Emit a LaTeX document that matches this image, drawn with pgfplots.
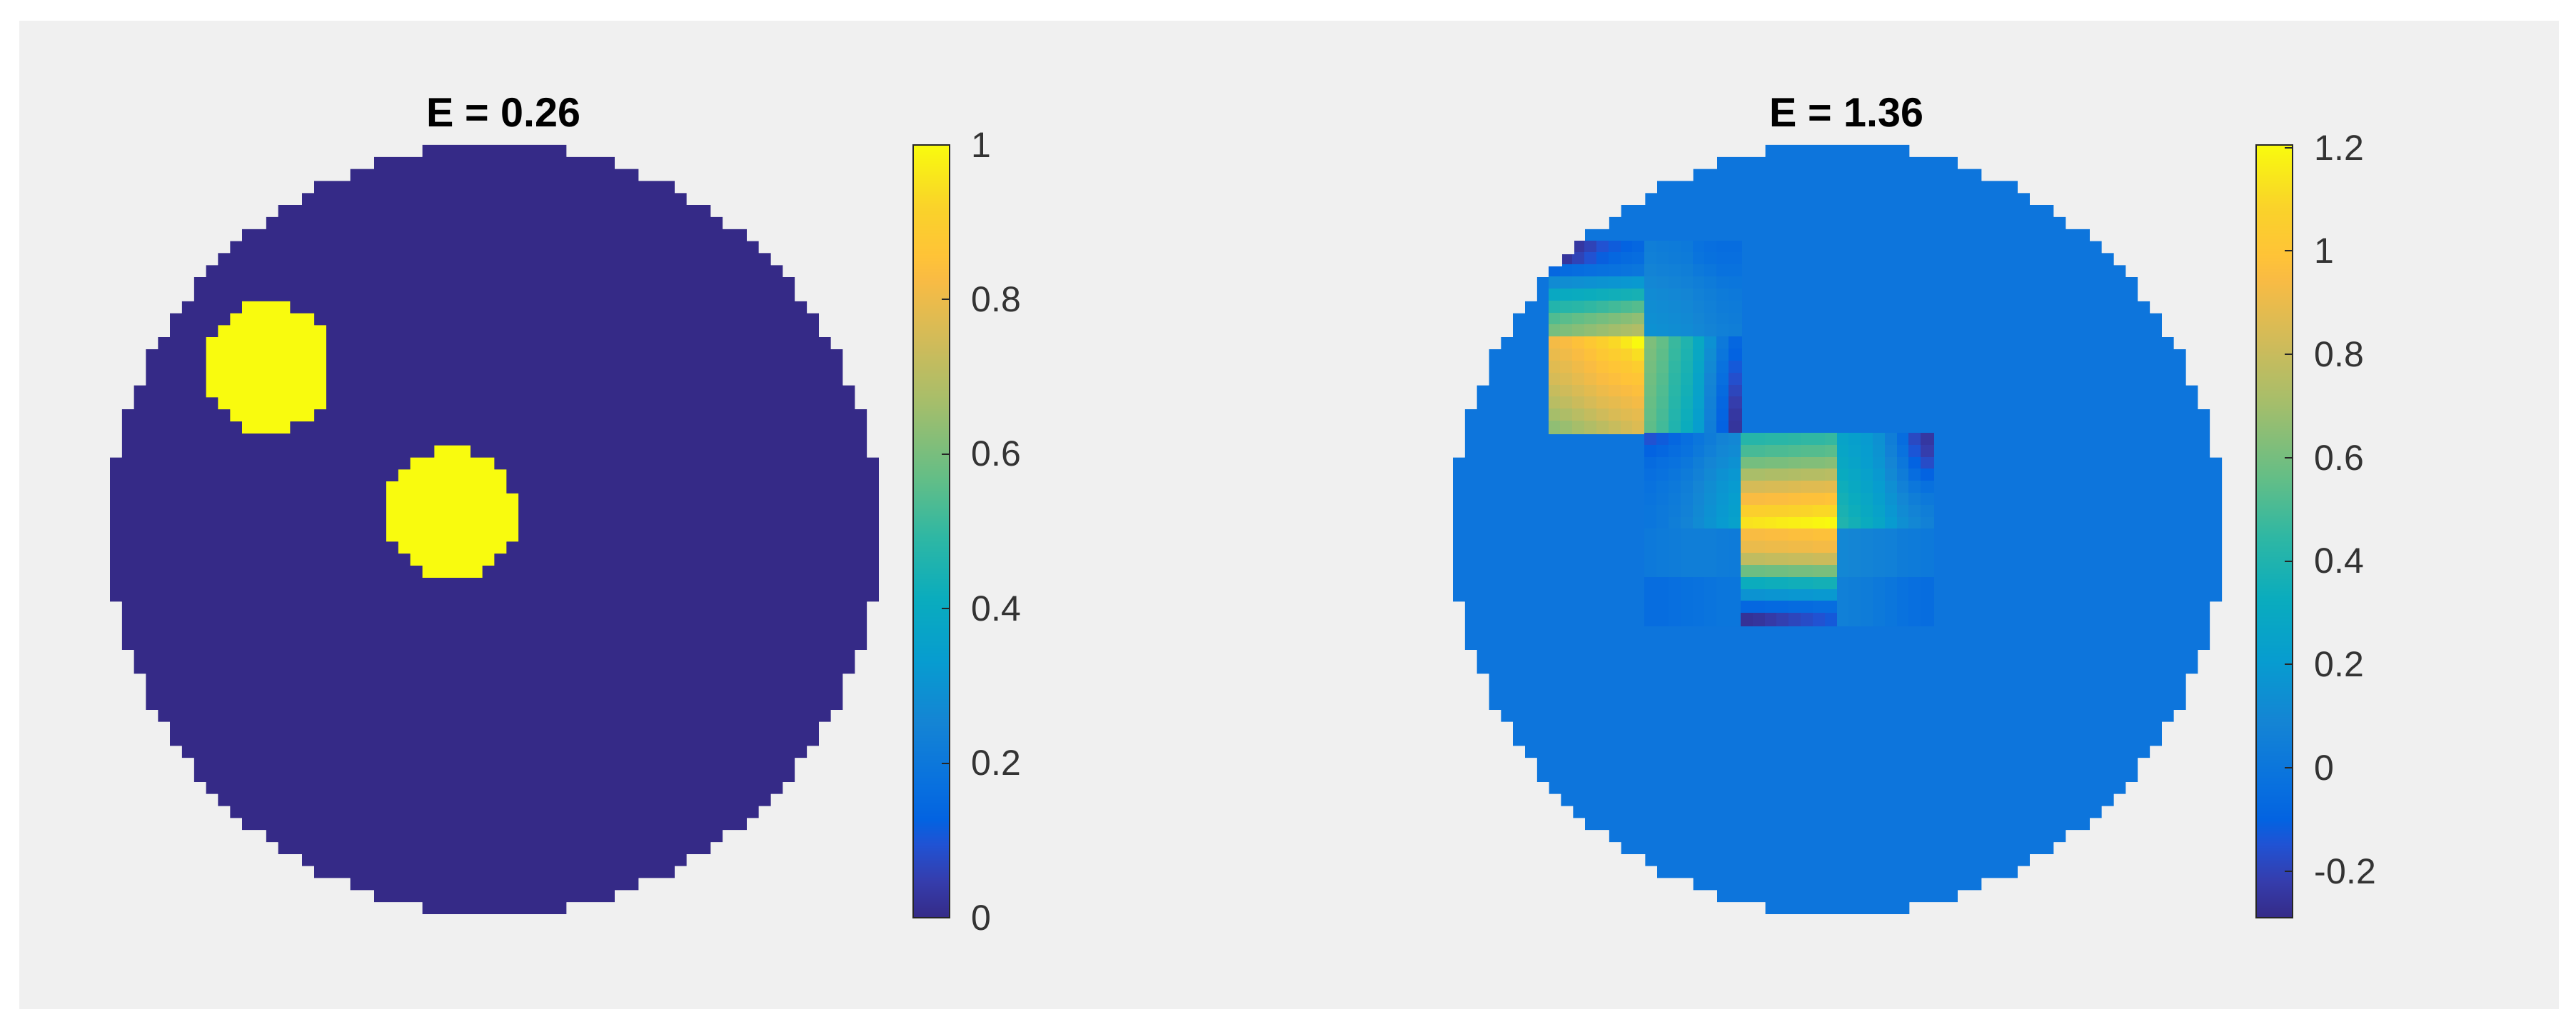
\documentclass[border=0pt]{standalone}
\usepackage{fontspec}
\setmainfont{Liberation Sans}
\usepackage{pgfplots}
\usepackage{pgfplotstable}
\pgfplotsset{compat=1.18}

\definecolor{figgray}{RGB}{240,240,240}
\definecolor{pa0}{rgb}{0.2081,0.1663,0.5292}
\definecolor{pa1}{rgb}{0.9763,0.9831,0.0538}
\definecolor{pbg}{rgb}{0.05,0.46,0.864}

\pgfplotsset{
  colormap={parula}{rgb(0pt)=(0.2081,0.1663,0.5292) rgb(3pt)=(0.2081,0.2386,0.6771)
    rgb(6pt)=(0.1253,0.3242,0.8303) rgb(8pt)=(0.0117,0.3875,0.8820)
    rgb(11pt)=(0.0329,0.4430,0.8720) rgb(16pt)=(0.0793,0.5200,0.8312)
    rgb(21pt)=(0.0265,0.6137,0.8135) rgb(26pt)=(0.0384,0.6743,0.7436)
    rgb(31pt)=(0.1801,0.7177,0.6424) rgb(36pt)=(0.3953,0.7459,0.5244)
    rgb(42pt)=(0.6473,0.7456,0.4188) rgb(47pt)=(0.8185,0.7327,0.3498)
    rgb(52pt)=(0.9739,0.7314,0.2666) rgb(54pt)=(0.9990,0.7653,0.2164)
    rgb(58pt)=(0.9789,0.8271,0.1633) rgb(63pt)=(0.9763,0.9831,0.0538)},
  discax/.style={
    scale only axis, width=215.4pt, height=215.4pt, y dir=reverse,
    xmin=0, xmax=64, ymin=0, ymax=64,
    hide axis, anchor=north west,
    title style={at={(0.5,1)}, anchor=base, yshift=-1pt, xshift=2.6pt,
      font=\bfseries\fontsize{11.5}{13}\selectfont},
    colorbar, colorbar/width=10.1pt,
    colorbar style={
      at={(parent axis.north east)}, anchor=north west, xshift=1.1pt,
      height=216.4pt,
      ytick pos=right, tick align=inside, major tick length=2.2pt,
      axis line style={black!85, line width=0.4pt},
      ytick style={black!85, line width=0.4pt},
      yticklabel style={font=\fontsize{10}{12}\selectfont, text=black!80, xshift=2.7pt},
      /pgf/number format/assume math mode=true,
    },
  },
}

% staircase outline of the disc (cell edges, row 0 at top)
\pgfplotstableread{
x y
26 0
38 0
38 1
42 1
42 2
44 2
44 3
47 3
47 4
48 4
48 5
50 5
50 6
51 6
51 7
53 7
53 8
54 8
54 9
55 9
55 10
56 10
56 11
57 11
57 13
58 13
58 14
59 14
59 16
60 16
60 17
61 17
61 20
62 20
62 22
63 22
63 26
64 26
64 38
63 38
63 42
62 42
62 44
61 44
61 47
60 47
60 48
59 48
59 50
58 50
58 51
57 51
57 53
56 53
56 54
55 54
55 55
54 55
54 56
53 56
53 57
51 57
51 58
50 58
50 59
48 59
48 60
47 60
47 61
44 61
44 62
42 62
42 63
38 63
38 64
26 64
26 63
22 63
22 62
20 62
20 61
17 61
17 60
16 60
16 59
14 59
14 58
13 58
13 57
11 57
11 56
10 56
10 55
9 55
9 54
8 54
8 53
7 53
7 51
6 51
6 50
5 50
5 48
4 48
4 47
3 47
3 44
2 44
2 42
1 42
1 38
0 38
0 26
1 26
1 22
2 22
2 20
3 20
3 17
4 17
4 16
5 16
5 14
6 14
6 13
7 13
7 11
8 11
8 10
9 10
9 9
10 9
10 8
11 8
11 7
13 7
13 6
14 6
14 5
16 5
16 4
17 4
17 3
20 3
20 2
22 2
22 1
26 1
}\disc

% reconstruction, upper blocks: columns 8-23, rows 8-23
\pgfplotstableread[row sep=\\]{
x y c \\
8.5 8.5 -0.25 \\ 9.5 8.5 -0.25 \\ 10.5 8.5 -0.24 \\ 11.5 8.5 -0.2 \\ 12.5 8.5 -0.15 \\ 13.5 8.5 -0.12 \\ 14.5 8.5 -0.1 \\ 15.5 8.5 -0.08 \\ 16.5 8.5 0.05 \\ 17.5 8.5 0.04 \\ 18.5 8.5 0.03 \\ 19.5 8.5 0.02 \\ 20.5 8.5 -0.02 \\ 21.5 8.5 -0.04 \\ 22.5 8.5 -0.05 \\ 23.5 8.5 -0.05 \\
8.5 9.5 -0.25 \\ 9.5 9.5 -0.25 \\ 10.5 9.5 -0.2 \\ 11.5 9.5 -0.15 \\ 12.5 9.5 -0.11 \\ 13.5 9.5 -0.08 \\ 14.5 9.5 -0.06 \\ 15.5 9.5 -0.05 \\ 16.5 9.5 0.06 \\ 17.5 9.5 0.05 \\ 18.5 9.5 0.04 \\ 19.5 9.5 0.03 \\ 20.5 9.5 -0.01 \\ 21.5 9.5 -0.03 \\ 22.5 9.5 -0.04 \\ 23.5 9.5 -0.04 \\
8.5 10.5 -0.08 \\ 9.5 10.5 -0.06 \\ 10.5 10.5 -0.05 \\ 11.5 10.5 -0.04 \\ 12.5 10.5 -0.03 \\ 13.5 10.5 -0.02 \\ 14.5 10.5 -0.01 \\ 15.5 10.5 0 \\ 16.5 10.5 0.08 \\ 17.5 10.5 0.07 \\ 18.5 10.5 0.06 \\ 19.5 10.5 0.05 \\ 20.5 10.5 0.02 \\ 21.5 10.5 0 \\ 22.5 10.5 -0.02 \\ 23.5 10.5 -0.02 \\
8.5 11.5 0.12 \\ 9.5 11.5 0.13 \\ 10.5 11.5 0.14 \\ 11.5 11.5 0.15 \\ 12.5 11.5 0.16 \\ 13.5 11.5 0.17 \\ 14.5 11.5 0.18 \\ 15.5 11.5 0.19 \\ 16.5 11.5 0.1 \\ 17.5 11.5 0.09 \\ 18.5 11.5 0.08 \\ 19.5 11.5 0.07 \\ 20.5 11.5 0.05 \\ 21.5 11.5 0.03 \\ 22.5 11.5 0.01 \\ 23.5 11.5 0 \\
8.5 12.5 0.3 \\ 9.5 12.5 0.31 \\ 10.5 12.5 0.32 \\ 11.5 12.5 0.33 \\ 12.5 12.5 0.34 \\ 13.5 12.5 0.35 \\ 14.5 12.5 0.36 \\ 15.5 12.5 0.37 \\ 16.5 12.5 0.12 \\ 17.5 12.5 0.11 \\ 18.5 12.5 0.1 \\ 19.5 12.5 0.09 \\ 20.5 12.5 0.07 \\ 21.5 12.5 0.05 \\ 22.5 12.5 0.03 \\ 23.5 12.5 0.02 \\
8.5 13.5 0.41 \\ 9.5 13.5 0.42 \\ 10.5 13.5 0.43 \\ 11.5 13.5 0.45 \\ 12.5 13.5 0.47 \\ 13.5 13.5 0.49 \\ 14.5 13.5 0.51 \\ 15.5 13.5 0.53 \\ 16.5 13.5 0.13 \\ 17.5 13.5 0.12 \\ 18.5 13.5 0.11 \\ 19.5 13.5 0.1 \\ 20.5 13.5 0.08 \\ 21.5 13.5 0.06 \\ 22.5 13.5 0.04 \\ 23.5 13.5 0.03 \\
8.5 14.5 0.52 \\ 9.5 14.5 0.54 \\ 10.5 14.5 0.56 \\ 11.5 14.5 0.58 \\ 12.5 14.5 0.6 \\ 13.5 14.5 0.62 \\ 14.5 14.5 0.64 \\ 15.5 14.5 0.66 \\ 16.5 14.5 0.14 \\ 17.5 14.5 0.13 \\ 18.5 14.5 0.12 \\ 19.5 14.5 0.11 \\ 20.5 14.5 0.09 \\ 21.5 14.5 0.07 \\ 22.5 14.5 0.05 \\ 23.5 14.5 0.04 \\
8.5 15.5 0.6 \\ 9.5 15.5 0.62 \\ 10.5 15.5 0.64 \\ 11.5 15.5 0.66 \\ 12.5 15.5 0.68 \\ 13.5 15.5 0.7 \\ 14.5 15.5 0.72 \\ 15.5 15.5 0.74 \\ 16.5 15.5 0.15 \\ 17.5 15.5 0.14 \\ 18.5 15.5 0.13 \\ 19.5 15.5 0.12 \\ 20.5 15.5 0.1 \\ 21.5 15.5 0.08 \\ 22.5 15.5 0.06 \\ 23.5 15.5 0.05 \\
8.5 16.5 0.93 \\ 9.5 16.5 0.95 \\ 10.5 16.5 0.98 \\ 11.5 16.5 1.02 \\ 12.5 16.5 1.06 \\ 13.5 16.5 1.1 \\ 14.5 16.5 1.15 \\ 15.5 16.5 1.2 \\ 16.5 16.5 0.62 \\ 17.5 16.5 0.56 \\ 18.5 16.5 0.47 \\ 19.5 16.5 0.4 \\ 20.5 16.5 0.3 \\ 21.5 16.5 0.15 \\ 22.5 16.5 0.02 \\ 23.5 16.5 -0.08 \\
8.5 17.5 0.9 \\ 9.5 17.5 0.92 \\ 10.5 17.5 0.95 \\ 11.5 17.5 0.98 \\ 12.5 17.5 1.02 \\ 13.5 17.5 1.05 \\ 14.5 17.5 1.08 \\ 15.5 17.5 1.12 \\ 16.5 17.5 0.61 \\ 17.5 17.5 0.55 \\ 18.5 17.5 0.46 \\ 19.5 17.5 0.39 \\ 20.5 17.5 0.29 \\ 21.5 17.5 0.13 \\ 22.5 17.5 0 \\ 23.5 17.5 -0.1 \\
8.5 18.5 0.87 \\ 9.5 18.5 0.89 \\ 10.5 18.5 0.92 \\ 11.5 18.5 0.95 \\ 12.5 18.5 0.98 \\ 13.5 18.5 1 \\ 14.5 18.5 1.02 \\ 15.5 18.5 1.05 \\ 16.5 18.5 0.6 \\ 17.5 18.5 0.54 \\ 18.5 18.5 0.45 \\ 19.5 18.5 0.38 \\ 20.5 18.5 0.27 \\ 21.5 18.5 0.11 \\ 22.5 18.5 -0.02 \\ 23.5 18.5 -0.13 \\
8.5 19.5 0.84 \\ 9.5 19.5 0.86 \\ 10.5 19.5 0.89 \\ 11.5 19.5 0.92 \\ 12.5 19.5 0.95 \\ 13.5 19.5 0.97 \\ 14.5 19.5 0.99 \\ 15.5 19.5 1 \\ 16.5 19.5 0.59 \\ 17.5 19.5 0.53 \\ 18.5 19.5 0.44 \\ 19.5 19.5 0.37 \\ 20.5 19.5 0.26 \\ 21.5 19.5 0.09 \\ 22.5 19.5 -0.04 \\ 23.5 19.5 -0.16 \\
8.5 20.5 0.8 \\ 9.5 20.5 0.82 \\ 10.5 20.5 0.85 \\ 11.5 20.5 0.88 \\ 12.5 20.5 0.91 \\ 13.5 20.5 0.93 \\ 14.5 20.5 0.95 \\ 15.5 20.5 0.97 \\ 16.5 20.5 0.58 \\ 17.5 20.5 0.52 \\ 18.5 20.5 0.43 \\ 19.5 20.5 0.36 \\ 20.5 20.5 0.25 \\ 21.5 20.5 0.08 \\ 22.5 20.5 -0.06 \\ 23.5 20.5 -0.19 \\
8.5 21.5 0.76 \\ 9.5 21.5 0.78 \\ 10.5 21.5 0.81 \\ 11.5 21.5 0.84 \\ 12.5 21.5 0.87 \\ 13.5 21.5 0.89 \\ 14.5 21.5 0.91 \\ 15.5 21.5 0.93 \\ 16.5 21.5 0.57 \\ 17.5 21.5 0.51 \\ 18.5 21.5 0.42 \\ 19.5 21.5 0.35 \\ 20.5 21.5 0.24 \\ 21.5 21.5 0.07 \\ 22.5 21.5 -0.08 \\ 23.5 21.5 -0.22 \\
8.5 22.5 0.71 \\ 9.5 22.5 0.73 \\ 10.5 22.5 0.76 \\ 11.5 22.5 0.79 \\ 12.5 22.5 0.82 \\ 13.5 22.5 0.85 \\ 14.5 22.5 0.87 \\ 15.5 22.5 0.89 \\ 16.5 22.5 0.56 \\ 17.5 22.5 0.5 \\ 18.5 22.5 0.41 \\ 19.5 22.5 0.34 \\ 20.5 22.5 0.23 \\ 21.5 22.5 0.06 \\ 22.5 22.5 -0.09 \\ 23.5 22.5 -0.24 \\
8.5 23.5 0.66 \\ 9.5 23.5 0.68 \\ 10.5 23.5 0.71 \\ 11.5 23.5 0.74 \\ 12.5 23.5 0.77 \\ 13.5 23.5 0.8 \\ 14.5 23.5 0.83 \\ 15.5 23.5 0.86 \\ 16.5 23.5 0.55 \\ 17.5 23.5 0.49 \\ 18.5 23.5 0.4 \\ 19.5 23.5 0.33 \\ 20.5 23.5 0.22 \\ 21.5 23.5 0.05 \\ 22.5 23.5 -0.1 \\ 23.5 23.5 -0.25 \\
}\upperblk

% reconstruction, lower blocks: columns 16-39, rows 24-39
\pgfplotstableread[row sep=\\]{
x y c \\
16.5 24.5 -0.15 \\ 17.5 24.5 -0.12 \\ 18.5 24.5 -0.08 \\ 19.5 24.5 -0.04 \\ 20.5 24.5 0 \\ 21.5 24.5 0.04 \\ 22.5 24.5 0.08 \\ 23.5 24.5 0.1 \\ 24.5 24.5 0.42 \\ 25.5 24.5 0.42 \\ 26.5 24.5 0.43 \\ 27.5 24.5 0.43 \\ 28.5 24.5 0.44 \\ 29.5 24.5 0.45 \\ 30.5 24.5 0.45 \\ 31.5 24.5 0.46 \\ 32.5 24.5 0.26 \\ 33.5 24.5 0.23 \\ 34.5 24.5 0.2 \\ 35.5 24.5 0.15 \\ 36.5 24.5 0.05 \\ 37.5 24.5 -0.05 \\ 38.5 24.5 -0.18 \\ 39.5 24.5 -0.24 \\
16.5 25.5 -0.1 \\ 17.5 25.5 -0.08 \\ 18.5 25.5 -0.05 \\ 19.5 25.5 -0.02 \\ 20.5 25.5 0.02 \\ 21.5 25.5 0.06 \\ 22.5 25.5 0.1 \\ 23.5 25.5 0.12 \\ 24.5 25.5 0.5 \\ 25.5 25.5 0.5 \\ 26.5 25.5 0.51 \\ 27.5 25.5 0.51 \\ 28.5 25.5 0.52 \\ 29.5 25.5 0.53 \\ 30.5 25.5 0.53 \\ 31.5 25.5 0.54 \\ 32.5 25.5 0.27 \\ 33.5 25.5 0.24 \\ 34.5 25.5 0.21 \\ 35.5 25.5 0.16 \\ 36.5 25.5 0.07 \\ 37.5 25.5 -0.02 \\ 38.5 25.5 -0.14 \\ 39.5 25.5 -0.22 \\
16.5 26.5 -0.06 \\ 17.5 26.5 -0.04 \\ 18.5 26.5 -0.02 \\ 19.5 26.5 0.01 \\ 20.5 26.5 0.05 \\ 21.5 26.5 0.09 \\ 22.5 26.5 0.12 \\ 23.5 26.5 0.15 \\ 24.5 26.5 0.6 \\ 25.5 26.5 0.6 \\ 26.5 26.5 0.61 \\ 27.5 26.5 0.61 \\ 28.5 26.5 0.62 \\ 29.5 26.5 0.63 \\ 30.5 26.5 0.63 \\ 31.5 26.5 0.64 \\ 32.5 26.5 0.29 \\ 33.5 26.5 0.26 \\ 34.5 26.5 0.22 \\ 35.5 26.5 0.17 \\ 36.5 26.5 0.09 \\ 37.5 26.5 0.01 \\ 38.5 26.5 -0.1 \\ 39.5 26.5 -0.17 \\
16.5 27.5 -0.04 \\ 17.5 27.5 -0.02 \\ 18.5 27.5 0 \\ 19.5 27.5 0.03 \\ 20.5 27.5 0.07 \\ 21.5 27.5 0.11 \\ 22.5 27.5 0.15 \\ 23.5 27.5 0.18 \\ 24.5 27.5 0.72 \\ 25.5 27.5 0.72 \\ 26.5 27.5 0.73 \\ 27.5 27.5 0.73 \\ 28.5 27.5 0.74 \\ 29.5 27.5 0.75 \\ 30.5 27.5 0.75 \\ 31.5 27.5 0.76 \\ 32.5 27.5 0.31 \\ 33.5 27.5 0.28 \\ 34.5 27.5 0.24 \\ 35.5 27.5 0.19 \\ 36.5 27.5 0.11 \\ 37.5 27.5 0.04 \\ 38.5 27.5 -0.05 \\ 39.5 27.5 -0.1 \\
16.5 28.5 -0.02 \\ 17.5 28.5 0 \\ 18.5 28.5 0.02 \\ 19.5 28.5 0.05 \\ 20.5 28.5 0.09 \\ 21.5 28.5 0.13 \\ 22.5 28.5 0.17 \\ 23.5 28.5 0.2 \\ 24.5 28.5 0.84 \\ 25.5 28.5 0.84 \\ 26.5 28.5 0.85 \\ 27.5 28.5 0.85 \\ 28.5 28.5 0.86 \\ 29.5 28.5 0.87 \\ 30.5 28.5 0.87 \\ 31.5 28.5 0.88 \\ 32.5 28.5 0.34 \\ 33.5 28.5 0.3 \\ 34.5 28.5 0.26 \\ 35.5 28.5 0.21 \\ 36.5 28.5 0.14 \\ 37.5 28.5 0.07 \\ 38.5 28.5 0.01 \\ 39.5 28.5 -0.03 \\
16.5 29.5 -0.01 \\ 17.5 29.5 0.01 \\ 18.5 29.5 0.03 \\ 19.5 29.5 0.06 \\ 20.5 29.5 0.1 \\ 21.5 29.5 0.14 \\ 22.5 29.5 0.18 \\ 23.5 29.5 0.22 \\ 24.5 29.5 0.95 \\ 25.5 29.5 0.95 \\ 26.5 29.5 0.96 \\ 27.5 29.5 0.96 \\ 28.5 29.5 0.97 \\ 29.5 29.5 0.98 \\ 30.5 29.5 0.98 \\ 31.5 29.5 0.99 \\ 32.5 29.5 0.36 \\ 33.5 29.5 0.32 \\ 34.5 29.5 0.28 \\ 35.5 29.5 0.23 \\ 36.5 29.5 0.16 \\ 37.5 29.5 0.1 \\ 38.5 29.5 0.05 \\ 39.5 29.5 0.02 \\
16.5 30.5 0 \\ 17.5 30.5 0.02 \\ 18.5 30.5 0.04 \\ 19.5 30.5 0.07 \\ 20.5 30.5 0.11 \\ 21.5 30.5 0.15 \\ 22.5 30.5 0.19 \\ 23.5 30.5 0.23 \\ 24.5 30.5 1.06 \\ 25.5 30.5 1.06 \\ 26.5 30.5 1.07 \\ 27.5 30.5 1.07 \\ 28.5 30.5 1.08 \\ 29.5 30.5 1.09 \\ 30.5 30.5 1.1 \\ 31.5 30.5 1.1 \\ 32.5 30.5 0.38 \\ 33.5 30.5 0.34 \\ 34.5 30.5 0.3 \\ 35.5 30.5 0.25 \\ 36.5 30.5 0.18 \\ 37.5 30.5 0.12 \\ 38.5 30.5 0.08 \\ 39.5 30.5 0.05 \\
16.5 31.5 0 \\ 17.5 31.5 0.02 \\ 18.5 31.5 0.05 \\ 19.5 31.5 0.08 \\ 20.5 31.5 0.12 \\ 21.5 31.5 0.16 \\ 22.5 31.5 0.2 \\ 23.5 31.5 0.24 \\ 24.5 31.5 1.13 \\ 25.5 31.5 1.14 \\ 26.5 31.5 1.15 \\ 27.5 31.5 1.16 \\ 28.5 31.5 1.17 \\ 29.5 31.5 1.18 \\ 30.5 31.5 1.19 \\ 31.5 31.5 1.2 \\ 32.5 31.5 0.4 \\ 33.5 31.5 0.36 \\ 34.5 31.5 0.32 \\ 35.5 31.5 0.27 \\ 36.5 31.5 0.2 \\ 37.5 31.5 0.14 \\ 38.5 31.5 0.1 \\ 39.5 31.5 0.07 \\
16.5 32.5 0.02 \\ 17.5 32.5 0.03 \\ 18.5 32.5 0.04 \\ 19.5 32.5 0.05 \\ 20.5 32.5 0.05 \\ 21.5 32.5 0.05 \\ 22.5 32.5 0.04 \\ 23.5 32.5 0.03 \\ 24.5 32.5 0.95 \\ 25.5 32.5 0.95 \\ 26.5 32.5 0.96 \\ 27.5 32.5 0.96 \\ 28.5 32.5 0.97 \\ 29.5 32.5 0.97 \\ 30.5 32.5 0.98 \\ 31.5 32.5 0.98 \\ 32.5 32.5 0.1 \\ 33.5 32.5 0.09 \\ 34.5 32.5 0.08 \\ 35.5 32.5 0.07 \\ 36.5 32.5 0.06 \\ 37.5 32.5 0.04 \\ 38.5 32.5 0.03 \\ 39.5 32.5 0.02 \\
16.5 33.5 0.02 \\ 17.5 33.5 0.03 \\ 18.5 33.5 0.04 \\ 19.5 33.5 0.05 \\ 20.5 33.5 0.05 \\ 21.5 33.5 0.05 \\ 22.5 33.5 0.04 \\ 23.5 33.5 0.03 \\ 24.5 33.5 0.9 \\ 25.5 33.5 0.9 \\ 26.5 33.5 0.91 \\ 27.5 33.5 0.91 \\ 28.5 33.5 0.92 \\ 29.5 33.5 0.92 \\ 30.5 33.5 0.93 \\ 31.5 33.5 0.93 \\ 32.5 33.5 0.1 \\ 33.5 33.5 0.09 \\ 34.5 33.5 0.08 \\ 35.5 33.5 0.07 \\ 36.5 33.5 0.06 \\ 37.5 33.5 0.04 \\ 38.5 33.5 0.03 \\ 39.5 33.5 0.02 \\
16.5 34.5 0.02 \\ 17.5 34.5 0.03 \\ 18.5 34.5 0.04 \\ 19.5 34.5 0.05 \\ 20.5 34.5 0.05 \\ 21.5 34.5 0.05 \\ 22.5 34.5 0.04 \\ 23.5 34.5 0.03 \\ 24.5 34.5 0.78 \\ 25.5 34.5 0.78 \\ 26.5 34.5 0.79 \\ 27.5 34.5 0.79 \\ 28.5 34.5 0.8 \\ 29.5 34.5 0.8 \\ 30.5 34.5 0.81 \\ 31.5 34.5 0.81 \\ 32.5 34.5 0.1 \\ 33.5 34.5 0.09 \\ 34.5 34.5 0.08 \\ 35.5 34.5 0.07 \\ 36.5 34.5 0.06 \\ 37.5 34.5 0.04 \\ 38.5 34.5 0.03 \\ 39.5 34.5 0.02 \\
16.5 35.5 0.02 \\ 17.5 35.5 0.03 \\ 18.5 35.5 0.04 \\ 19.5 35.5 0.05 \\ 20.5 35.5 0.05 \\ 21.5 35.5 0.05 \\ 22.5 35.5 0.04 \\ 23.5 35.5 0.03 \\ 24.5 35.5 0.58 \\ 25.5 35.5 0.58 \\ 26.5 35.5 0.59 \\ 27.5 35.5 0.59 \\ 28.5 35.5 0.6 \\ 29.5 35.5 0.6 \\ 30.5 35.5 0.61 \\ 31.5 35.5 0.61 \\ 32.5 35.5 0.1 \\ 33.5 35.5 0.09 \\ 34.5 35.5 0.08 \\ 35.5 35.5 0.07 \\ 36.5 35.5 0.06 \\ 37.5 35.5 0.04 \\ 38.5 35.5 0.03 \\ 39.5 35.5 0.02 \\
16.5 36.5 -0.05 \\ 17.5 36.5 -0.05 \\ 18.5 36.5 -0.04 \\ 19.5 36.5 -0.03 \\ 20.5 36.5 -0.02 \\ 21.5 36.5 -0.01 \\ 22.5 36.5 0 \\ 23.5 36.5 0 \\ 24.5 36.5 0.33 \\ 25.5 36.5 0.33 \\ 26.5 36.5 0.34 \\ 27.5 36.5 0.34 \\ 28.5 36.5 0.35 \\ 29.5 36.5 0.35 \\ 30.5 36.5 0.36 \\ 31.5 36.5 0.36 \\ 32.5 36.5 0.06 \\ 33.5 36.5 0.05 \\ 34.5 36.5 0.04 \\ 35.5 36.5 0.02 \\ 36.5 36.5 0 \\ 37.5 36.5 -0.02 \\ 38.5 36.5 -0.04 \\ 39.5 36.5 -0.05 \\
16.5 37.5 -0.05 \\ 17.5 37.5 -0.05 \\ 18.5 37.5 -0.04 \\ 19.5 37.5 -0.03 \\ 20.5 37.5 -0.02 \\ 21.5 37.5 -0.01 \\ 22.5 37.5 0 \\ 23.5 37.5 0 \\ 24.5 37.5 0.16 \\ 25.5 37.5 0.16 \\ 26.5 37.5 0.17 \\ 27.5 37.5 0.17 \\ 28.5 37.5 0.18 \\ 29.5 37.5 0.18 \\ 30.5 37.5 0.19 \\ 31.5 37.5 0.19 \\ 32.5 37.5 0.06 \\ 33.5 37.5 0.05 \\ 34.5 37.5 0.04 \\ 35.5 37.5 0.02 \\ 36.5 37.5 0 \\ 37.5 37.5 -0.02 \\ 38.5 37.5 -0.04 \\ 39.5 37.5 -0.05 \\
16.5 38.5 -0.05 \\ 17.5 38.5 -0.05 \\ 18.5 38.5 -0.04 \\ 19.5 38.5 -0.03 \\ 20.5 38.5 -0.02 \\ 21.5 38.5 -0.01 \\ 22.5 38.5 0 \\ 23.5 38.5 0 \\ 24.5 38.5 -0.08 \\ 25.5 38.5 -0.08 \\ 26.5 38.5 -0.07 \\ 27.5 38.5 -0.07 \\ 28.5 38.5 -0.06 \\ 29.5 38.5 -0.06 \\ 30.5 38.5 -0.05 \\ 31.5 38.5 -0.05 \\ 32.5 38.5 0.06 \\ 33.5 38.5 0.05 \\ 34.5 38.5 0.04 \\ 35.5 38.5 0.02 \\ 36.5 38.5 0 \\ 37.5 38.5 -0.02 \\ 38.5 38.5 -0.04 \\ 39.5 38.5 -0.05 \\
16.5 39.5 -0.05 \\ 17.5 39.5 -0.05 \\ 18.5 39.5 -0.04 \\ 19.5 39.5 -0.03 \\ 20.5 39.5 -0.02 \\ 21.5 39.5 -0.01 \\ 22.5 39.5 0 \\ 23.5 39.5 0 \\ 24.5 39.5 -0.26 \\ 25.5 39.5 -0.25 \\ 26.5 39.5 -0.23 \\ 27.5 39.5 -0.21 \\ 28.5 39.5 -0.19 \\ 29.5 39.5 -0.17 \\ 30.5 39.5 -0.15 \\ 31.5 39.5 -0.13 \\ 32.5 39.5 0.06 \\ 33.5 39.5 0.05 \\ 34.5 39.5 0.04 \\ 35.5 39.5 0.02 \\ 36.5 39.5 0 \\ 37.5 39.5 -0.02 \\ 38.5 39.5 -0.04 \\ 39.5 39.5 -0.05 \\
}\lowerblk

\begin{document}
\begin{tikzpicture}
\fill[white] (0pt,0pt) rectangle (721.6pt,288.8pt);
\fill[figgray] (5.4pt,6.2pt) rectangle (716.8pt,283pt);

% left: true conductivity
\begin{axis}[discax, at={(30.8pt,248.2pt)}, title={E = 0.26},
  point meta min=0, point meta max=1,
  colorbar style={ytick={0,0.2,0.4,0.6,0.8,1}}]
\addplot[fill=pa0, draw=none] table {\disc};
\addplot[fill=pa1, draw=none] coordinates {(11,13) (15,13) (15,14) (17,14) (17,15) (18,15) (18,22) (17,22) (17,23) (15,23) (15,24) (11,24) (11,23) (10,23) (10,22) (9,22) (9,21) (8,21) (8,16) (9,16) (9,15) (10,15) (10,14) (11,14)};
\addplot[fill=pa1, draw=none] coordinates {(27,25) (30,25) (30,26) (32,26) (32,27) (33,27) (33,29) (34,29) (34,33) (33,33) (33,34) (32,34) (32,35) (31,35) (31,36) (26,36) (26,35) (25,35) (25,34) (24,34) (24,33) (23,33) (23,28) (24,28) (24,27) (25,27) (25,26) (27,26)};
\end{axis}

% right: reconstruction
\begin{axis}[discax, at={(407pt,248.2pt)}, title={E = 1.36},
  point meta min=-0.29, point meta max=1.205,
  colorbar style={ytick={-0.2,0,0.2,0.4,0.6,0.8,1,1.2}}]
\addplot[fill=pbg, draw=none] table {\disc};
\addplot[matrix plot*, mesh/cols=16, point meta=explicit] table[meta=c] {\upperblk};
\addplot[matrix plot*, mesh/cols=24, point meta=explicit] table[meta=c] {\lowerblk};
\addplot[fill=figgray, draw=figgray, line width=0.5pt] coordinates {(7.5,7.5) (10,7.5) (10,9) (9,9) (9,10) (7.5,10)};
\end{axis}
\end{tikzpicture}
\end{document}
